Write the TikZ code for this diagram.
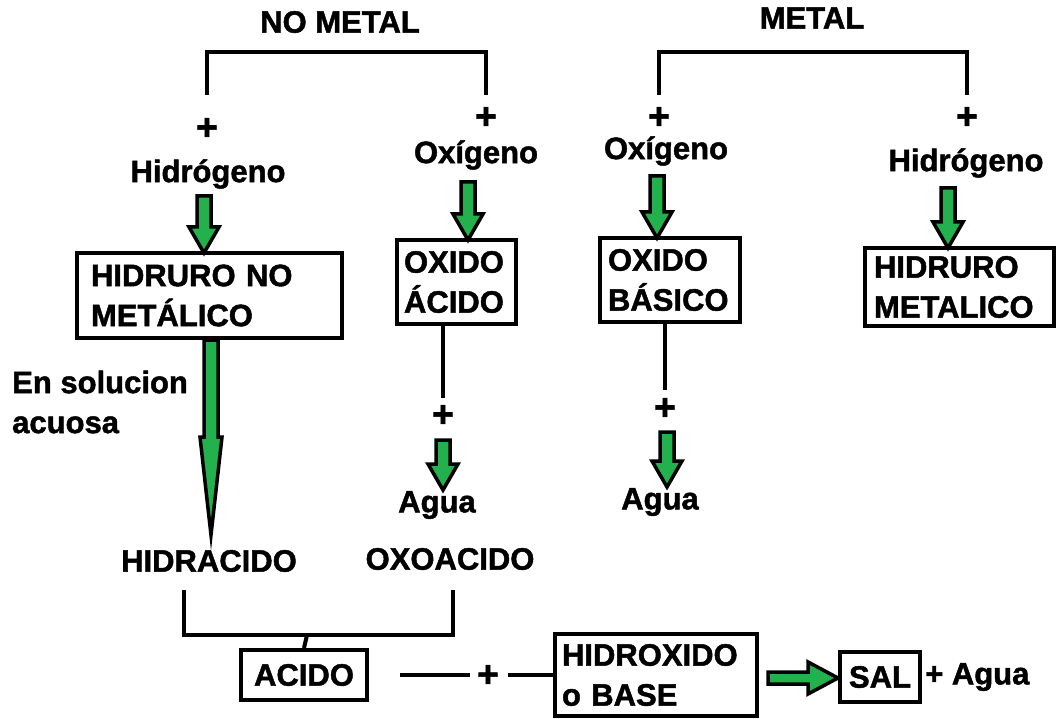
\documentclass[tikz,border=0pt]{standalone}
\usepackage{fontspec}
\setmainfont{Liberation Sans}[BoldFeatures={FakeBold=1.5}]
\usetikzlibrary{calc}
\definecolor{pgreen}{HTML}{22B14C}
\tikzset{
  lbl/.style={font=\bfseries\fontsize{31}{40}\selectfont, inner sep=0pt},
  plus/.style={font=\bfseries\fontsize{37}{40}\selectfont, inner sep=0pt},
  box/.style={draw, line width=4pt, font=\bfseries\fontsize{31}{40}\selectfont, align=left, inner ysep=0pt},
  wire/.style={line width=4pt},
  fat/.style={fill=pgreen, draw=black, line width=3.5pt, line join=miter},
}
\newcommand\fatdown[2]{%
  \filldraw[fat] ($(#1)+(-7,0)$) -- ($(#2)+(-7,-26)$) -- ($(#2)+(-15,-26)$) -- (#2)
   -- ($(#2)+(15,-26)$) -- ($(#2)+(7,-26)$) -- ($(#1)+(7,0)$) -- cycle;}
\begin{document}
\begin{tikzpicture}[x=1pt,y=-1pt]
\useasboundingbox (0,0) rectangle (1056,719);
% headers
\node[lbl] (nometal) at (340,22) {NO METAL};
\node[lbl] (metal) at (812,18) {METAL};
% brackets
\coordinate (b1l) at (207,95); \coordinate (b1r) at (486,95);
\coordinate (b2l) at (659,95); \coordinate (b2r) at (967,95);
\draw[wire] (b1l) -- (207,52) -- (486,52) -- (b1r);
\draw[wire] (b2l) -- (659,52) -- (967,52) -- (b2r);
% plus signs
\node[plus] (p1) at (207,129) {+};
\node[plus] (p2) at (486,118) {+};
\node[plus] (p3) at (659,118) {+};
\node[plus] (p4) at (967,118) {+};
% reagents
\node[lbl] (hid1) at (208,174) {Hidrógeno};
\node[lbl] (oxy1) at (476,155) {Oxígeno};
\node[lbl] (oxy2) at (666,151) {Oxígeno};
\node[lbl] (hid2) at (966,163) {Hidrógeno};
% boxes
\node[box, minimum width=265, minimum height=85, text width=237, inner xsep=14pt] (hnm) at (209.5,295.5) {HIDRURO NO\\METÁLICO};
\node[box, minimum width=119, minimum height=84, text width=105, inner xsep=7pt] (oa) at (456.5,282) {OXIDO\\ÁCIDO};
\node[box, minimum width=140, minimum height=84, text width=124, inner xsep=8pt] (ob) at (670,280) {OXIDO\\BÁSICO};
\node[box, minimum width=189, minimum height=78, text width=171, inner xsep=9pt] (hm) at (959.5,287) {HIDRURO\\METALICO};
% green arrows to boxes
\coordinate (a1s) at (204,196); \coordinate (a1e) at (204,253);
\coordinate (a2s) at (468,182); \coordinate (a2e) at (468,240);
\coordinate (a3s) at (657,176); \coordinate (a3e) at (657,238);
\coordinate (a4s) at (948,188); \coordinate (a4e) at (948,248);
\fatdown{a1s}{a1e}
\fatdown{a2s}{a2e}
\fatdown{a3s}{a3e}
\fatdown{a4s}{a4e}
% long arrow
\coordinate (ls) at (211,340); \coordinate (le) at (211,535);
\filldraw[fat] ($(ls)+(-7,0)$) -- ($(ls)+(-7,97)$) -- ($(ls)+(-11,97)$) -- (le)
  -- ($(ls)+(11,97)$) -- ($(ls)+(7,97)$) -- ($(ls)+(7,0)$) -- cycle;
\node[lbl, align=left, anchor=west] (sol) at (12,402) {En solucion\\acuosa};
% water additions
\coordinate (oa1) at (443,398); \coordinate (ob1) at (665,390);
\draw[wire] (oa.south -| oa1) -- (oa1);
\draw[wire] (ob.south -| ob1) -- (ob1);
\node[plus] (p5) at (443,416) {+};
\node[plus] (p6) at (665,409) {+};
\coordinate (a5s) at (443,440); \coordinate (a5e) at (443,490);
\coordinate (a6s) at (667,432); \coordinate (a6e) at (667,487);
\fatdown{a5s}{a5e}
\fatdown{a6s}{a6e}
\node[lbl] (agua1) at (437,505) {Agua};
\node[lbl] (agua2) at (660,502) {Agua};
% acids
\node[lbl] (hidr) at (209,561) {HIDRACIDO};
\node[lbl] (oxo) at (450,559) {OXOACIDO};
\coordinate (bl) at (184,590); \coordinate (brr) at (453,590); \coordinate (bm) at (307,635);
\draw[wire] (bl) -- (184,635) -- (453,635) -- (brr);
\node[box, minimum width=126, minimum height=50, inner xsep=0pt, align=center] (acido) at (304,675) {ACIDO};
\draw[wire] (bm) -- (acido.north);
% neutralisation
\node[plus] (p7) at (488,676) {+};
\coordinate (l1) at (400,675); \coordinate (l2) at (470,675); \coordinate (l3) at (508,675);
\node[box, minimum width=202, minimum height=82, text width=188, inner xsep=7pt] (base) at (656,675) {HIDROXIDO\\o BASE};
\draw[wire] (l1) -- (l2);
\draw[wire] (l3) -- (base.west |- l3);
\node[box, minimum width=80, minimum height=50, inner xsep=0pt, align=center] (sal) at (880,677) {SAL};
\coordinate (hs) at (768,678); \coordinate (he) at (838,678);
\filldraw[fat] ($(hs)+(0,-6)$) -- ($(he)+(-30,-6)$) -- ($(he)+(-30,-16)$) -- (he)
  -- ($(he)+(-30,16)$) -- ($(he)+(-30,6)$) -- ($(hs)+(0,6)$) -- cycle;
\node[lbl, anchor=west] (agua3) at (925,677) {+ Agua};
\end{tikzpicture}
\end{document}
